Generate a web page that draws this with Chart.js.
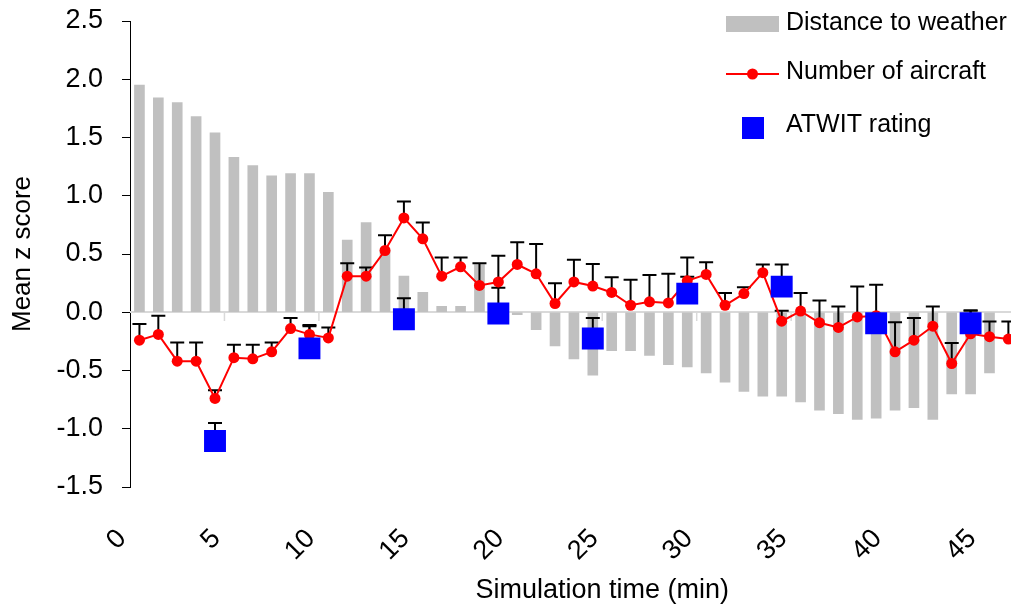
<!DOCTYPE html>
<html><head><meta charset="utf-8">
<script src="https://cdn.jsdelivr.net/npm/chart.js@4.4.1/dist/chart.umd.min.js"></script>
<style>
html,body{margin:0;padding:0;overflow:hidden;background:#fff;width:1011px;height:609px}
#wrap{position:absolute;left:0;top:0;width:1090px;height:609px}
</style></head>
<body><div id="wrap"><canvas id="c" width="1090" height="609"></canvas></div>
<script>
// ---- data ----
const timeMin = [0.5,1.5,2.5,3.5,4.5,5.5,6.5,7.5,8.5,9.5,10.5,11.5,12.5,13.5,14.5,15.5,16.5,17.5,18.5,19.5,20.5,21.5,22.5,23.5,24.5,25.5,26.5,27.5,28.5,29.5,30.5,31.5,32.5,33.5,34.5,35.5,36.5,37.5,38.5,39.5,40.5,41.5,42.5,43.5,44.5,45.5,46.5];
const distanceToWeather = [1.95,1.84,1.80,1.68,1.54,1.33,1.26,1.17,1.19,1.19,1.03,0.62,0.77,0.53,0.31,0.17,0.05,0.05,0.41,0.01,-0.02,-0.15,-0.29,-0.40,-0.54,-0.33,-0.33,-0.37,-0.45,-0.47,-0.52,-0.60,-0.68,-0.72,-0.72,-0.77,-0.84,-0.87,-0.92,-0.91,-0.84,-0.82,-0.92,-0.70,-0.70,-0.52];
const numberOfAircraft = [-0.24,-0.19,-0.42,-0.42,-0.74,-0.39,-0.40,-0.34,-0.14,-0.19,-0.22,0.31,0.31,0.53,0.81,0.63,0.31,0.39,0.23,0.26,0.41,0.33,0.075,0.26,0.225,0.17,0.06,0.09,0.08,0.27,0.325,0.06,0.16,0.34,-0.077,0.01,-0.09,-0.13,-0.04,-0.03,-0.34,-0.24,-0.12,-0.44,-0.185,-0.21,-0.23];
const aircraftError = [0.14,0.16,0.16,0.16,0.07,0.11,0.12,0.08,0.09,0.08,0.09,0.11,0.075,0.13,0.14,0.14,0.16,0.08,0.19,0.225,0.19,0.255,0.175,0.19,0.19,0.13,0.22,0.23,0.25,0.20,0.105,0.105,0.055,0.07,0.09,0.155,0.19,0.18,0.26,0.265,0.255,0.19,0.17,0.175,0.20,0.13,0.15];
const atwitTime = [4.5,9.5,14.5,19.5,24.5,29.5,34.5,39.5,44.5];
const atwitRating = [-1.105,-0.31,-0.06,-0.01,-0.225,0.16,0.22,-0.095,-0.095];
const atwitError = [0.155,0.19,0.18,0.22,0.175,0.145,0.19,0.08,0.11];
const xTickValues = [0,5,10,15,20,25,30,35,40,45];
const yTickValues = [-1.5,-1.0,-0.5,0,0.5,1.0,1.5,2.0,2.5];
const zeroLineTicks = [5,10,15,20,25,30,35,40,45,50];

// ---- styles ----
const FONT = '"Liberation Sans", Arial, Helvetica, sans-serif';
const BAR_COLOR = '#c0c0c0';
const LINE_COLOR = '#ff0000';
const ATWIT_COLOR = '#0000ff';

const zeroLinePlugin = {
  id: 'zeroLine',
  beforeDatasetsDraw(chart) {
    const {ctx, chartArea, scales: {x, y}} = chart;
    const y0 = Math.round(y.getPixelForValue(0));
    ctx.save();
    ctx.strokeStyle = '#d9d9d9';
    ctx.lineWidth = 2;
    ctx.beginPath();
    ctx.moveTo(chartArea.left, y0);
    ctx.lineTo(chartArea.right, y0);
    ctx.stroke();
    ctx.lineWidth = 1.5;
    zeroLineTicks.forEach(t => {
      const px = x.getPixelForValue(t);
      ctx.beginPath();
      ctx.moveTo(px, y0);
      ctx.lineTo(px, y0 + 9);
      ctx.stroke();
    });
    ctx.restore();
  }
};

const errorBarPlugin = {
  id: 'errorBars',
  afterDatasetDraw(chart, args) {
    if (args.index !== 0) return;
    const {ctx, chartArea, scales: {x, y}} = chart;
    ctx.save();
    ctx.beginPath();
    ctx.rect(chartArea.left, 0, chartArea.right - chartArea.left, chart.height);
    ctx.clip();
    ctx.strokeStyle = '#000';
    ctx.lineWidth = 2;
    chart.data.datasets.forEach(ds => {
      if (!ds.errors) return;
      ds.data.forEach((p, i) => {
        const e = ds.errors[i];
        if (e == null || p.y == null) return;
        const px = x.getPixelForValue(p.x);
        const py0 = y.getPixelForValue(p.y);
        const py1 = y.getPixelForValue(p.y + e);
        ctx.beginPath();
        ctx.moveTo(px, py0);
        ctx.lineTo(px, py1);
        ctx.moveTo(px - 7, py1);
        ctx.lineTo(px + 7, py1);
        ctx.stroke();
      });
    });
    ctx.restore();
  }
};

const legendPlugin = {
  id: 'customLegend',
  afterDraw(chart) {
    const {ctx} = chart;
    const ds = chart.data.datasets;
    const symX = 726, symW = 53, textX = 786;
    ctx.save();
    ctx.fillStyle = BAR_COLOR;
    ctx.fillRect(symX, 16, symW, 16);
    ctx.strokeStyle = LINE_COLOR;
    ctx.lineWidth = 2;
    ctx.beginPath();
    ctx.moveTo(symX, 74);
    ctx.lineTo(symX + symW, 74);
    ctx.stroke();
    ctx.fillStyle = LINE_COLOR;
    ctx.beginPath();
    ctx.arc(symX + symW / 2, 74, 5.5, 0, Math.PI * 2);
    ctx.fill();
    ctx.fillStyle = ATWIT_COLOR;
    ctx.fillRect(742, 117, 22, 22);
    ctx.fillStyle = '#000';
    ctx.font = '25px ' + FONT;
    ctx.textAlign = 'left';
    ctx.textBaseline = 'alphabetic';
    ctx.fillText(ds[0].label, textX, 30);
    ctx.fillText(ds[1].label, textX, 79);
    ctx.fillText(ds[2].label, textX, 131.5);
    ctx.restore();
  }
};

new Chart(document.getElementById('c'), {
  type: 'bar',
  data: {
    datasets: [
      {
        type: 'bar',
        label: 'Distance to weather',
        data: distanceToWeather.map((v, i) => ({x: timeMin[i], y: v})),
        backgroundColor: BAR_COLOR,
        borderWidth: 0,
        barThickness: 10,
        order: 3
      },
      {
        type: 'line',
        label: 'Number of aircraft',
        data: numberOfAircraft.map((v, i) => ({x: timeMin[i], y: v})),
        errors: aircraftError,
        borderColor: LINE_COLOR,
        borderWidth: 2,
        pointRadius: 5.5,
        pointBackgroundColor: LINE_COLOR,
        pointBorderWidth: 0,
        tension: 0,
        order: 2
      },
      {
        type: 'line',
        label: 'ATWIT rating',
        data: atwitRating.map((v, i) => ({x: atwitTime[i], y: v})),
        errors: atwitError,
        showLine: false,
        pointStyle: 'rect',
        pointRadius: 15.5,
        pointBackgroundColor: ATWIT_COLOR,
        pointBorderWidth: 0,
        order: 1
      }
    ]
  },
  options: {
    responsive: false,
    animation: false,
    devicePixelRatio: 1,
    layout: {padding: {top: 21, right: 4, bottom: 0, left: 0}},
    plugins: {legend: {display: false}, tooltip: {enabled: false}},
    scales: {
      x: {
        type: 'linear', min: 0, max: 50, offset: false,
        grid: {display: false, drawTicks: false, offset: false},
        border: {display: false},
        afterBuildTicks: s => { s.ticks = xTickValues.map(v => ({value: v})); },
        afterFit: s => { s.height = 122; s.paddingLeft = 0; s.paddingRight = 0; },
        ticks: {autoSkip: false, minRotation: 45, maxRotation: 45, padding: 36, labelOffset: -8, color: '#000',
                font: {family: FONT, size: 27}, callback: v => String(v)},
        title: {display: true, text: 'Simulation time (min)', color: '#000',
                font: {family: FONT, size: 27}, padding: {top: 0, bottom: 2}}
      },
      y: {
        min: -1.5, max: 2.5,
        afterBuildTicks: s => { s.ticks = yTickValues.map(v => ({value: v})); },
        afterFit: s => { s.width = 130; s.paddingTop = 0; s.paddingBottom = 0; },
        grid: {drawOnChartArea: false, drawTicks: true, tickLength: 8, color: '#000', lineWidth: 1},
        border: {display: true, color: '#000', width: 1},
        ticks: {padding: 19, color: '#000', font: {family: FONT, size: 27}, callback: v => Number(v).toFixed(1)},
        title: {display: true, text: 'Mean z score', color: '#000',
                font: {family: FONT, size: 26}, padding: {top: 7, bottom: 0}}
      }
    }
  },
  plugins: [zeroLinePlugin, errorBarPlugin, legendPlugin]
});
</script>
</body></html>
